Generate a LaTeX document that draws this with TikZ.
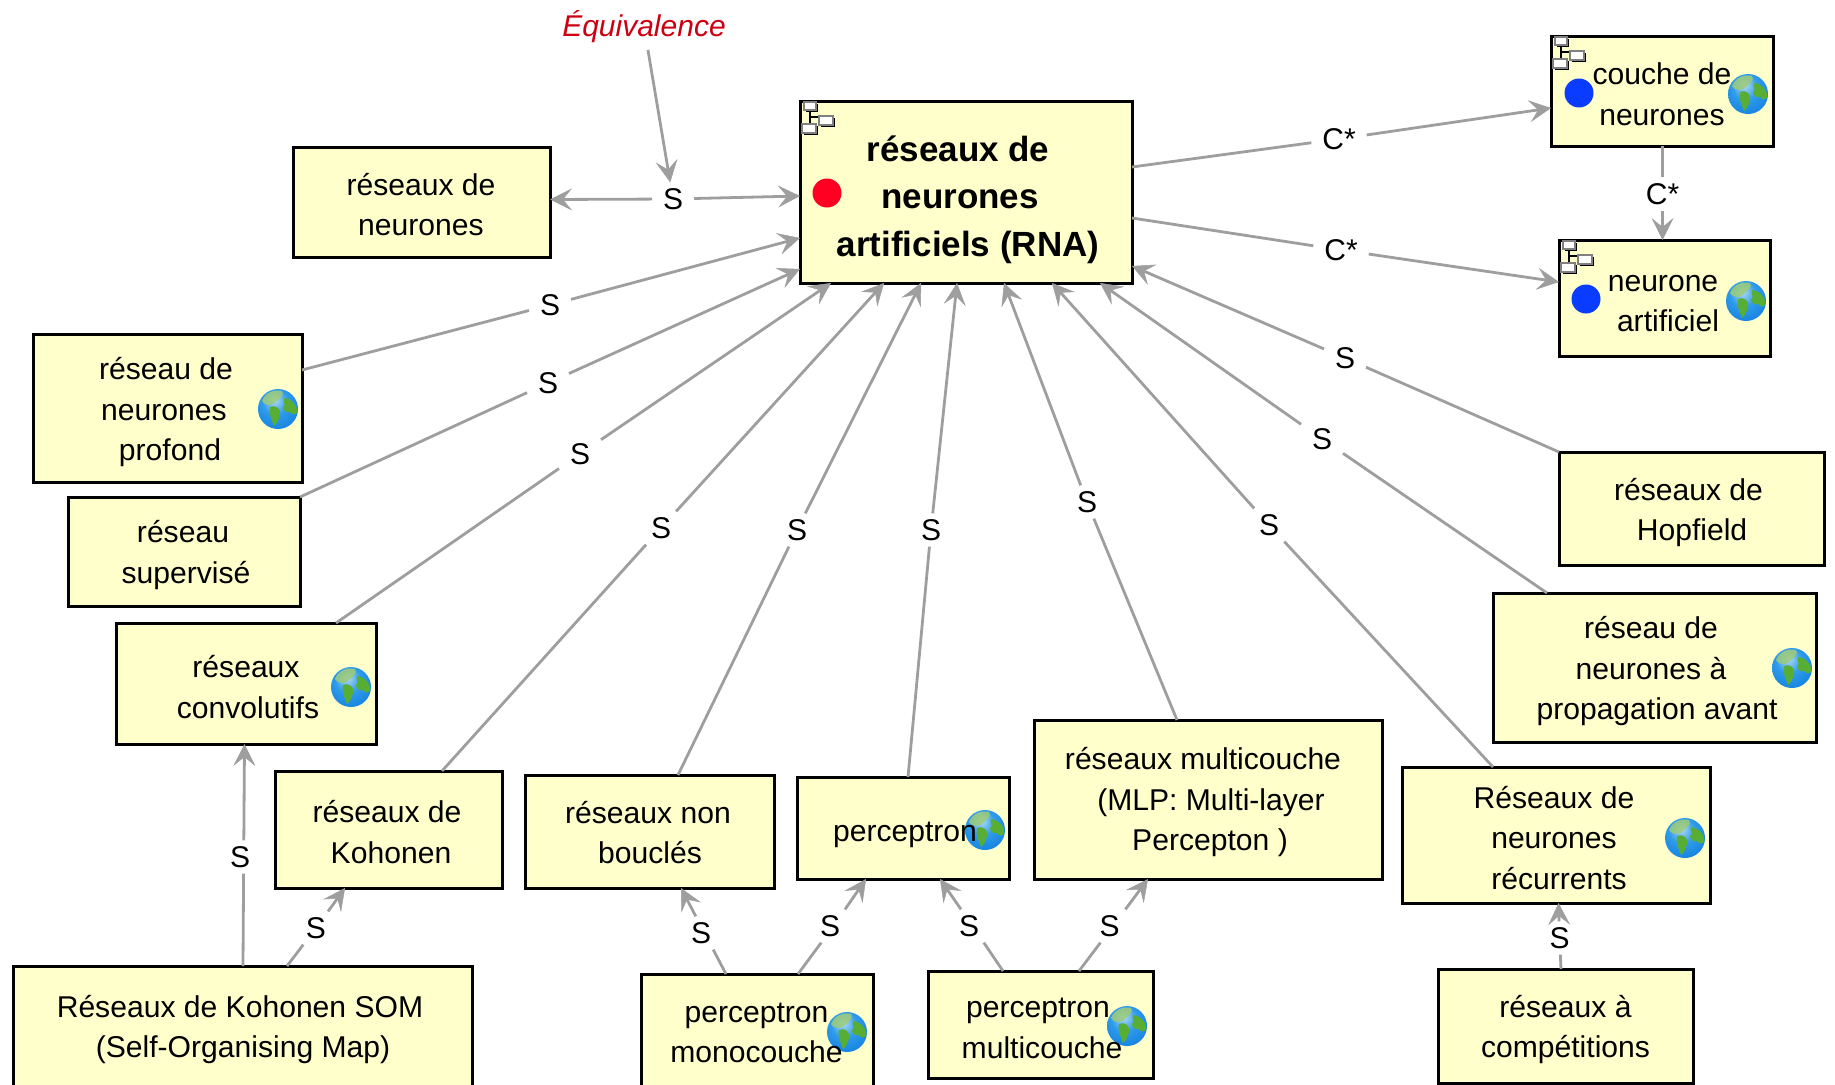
\documentclass[tikz,border=0pt]{standalone}
\usepackage{fontspec}
\setmainfont{Liberation Sans}
\usetikzlibrary{arrows.meta,fit}
\definecolor{boxfill}{HTML}{FFFFCC}
\definecolor{linkgray}{HTML}{9E9E9E}
\definecolor{eqred}{HTML}{CC0011}
\definecolor{dotred}{HTML}{FF0022}
\definecolor{dotblue}{HTML}{0A3CFF}
\definecolor{gA}{HTML}{B4DCF5}
\definecolor{gB}{HTML}{2F9BEA}
\definecolor{gC}{HTML}{0A78DC}
\definecolor{gD}{HTML}{1C4FA0}
\definecolor{landA}{HTML}{9CCB78}
\definecolor{landB}{HTML}{58AE34}
\pgfdeclareradialshading{earthshade}{\pgfpoint{-5bp}{12bp}}{%
  color(0bp)=(gA);
  color(16bp)=(gB);
  color(40bp)=(gC);
  color(54bp)=(gD);
  color(65bp)=(gD)}
\newcommand{\dx}[2]{\hspace*{#1pt}#2}
\newcommand{\lsh}[1]{\hspace*{-7pt}#1}
\tikzset{
  x=1pt,y=-1pt,
  cbox/.style={draw=black,fill=boxfill,line width=3pt,inner sep=0pt,outer sep=0pt},
  txt/.style={font=\fontsize{30.1pt}{40.5pt}\selectfont,align=center,text=black,inner sep=0pt},
  maintxt/.style={font=\fontsize{35pt}{47.5pt}\selectfont\bfseries,align=center,text=black,inner sep=0pt},
  lab/.style={font=\fontsize{30pt}{36pt}\selectfont,text=black,inner xsep=11pt,inner ysep=6pt,outer sep=0pt},
  eqn/.style={font=\fontsize{30pt}{36pt}\selectfont\itshape,text=eqred,inner sep=7pt},
  link/.style={draw=linkgray,line width=2.8pt,-{Stealth[inset=9pt,length=22pt,width=22pt,line width=0.5pt]}},
  dot/.style={circle,inner sep=0pt,minimum size=29pt,draw=none},
  earth/.pic={
    \shade[shading=earthshade] (0,0) circle[radius=20pt];
    \fill[landA,opacity=.85] (-16,-8) .. controls (-13,-16) and (-4,-20) .. (4,-18) .. controls (7,-14) and (2,-11) .. (-1,-8) .. controls (-5,-3) and (-12,-2) .. (-16,-8) -- cycle;
    \fill[landB] (6,-11) .. controls (12,-11) and (19,-5) .. (19.5,2) .. controls (18,7) and (14,6) .. (12,3) .. controls (9,4) and (5,2) .. (5,-2) .. controls (9,-4) and (4,-7) .. (6,-11) -- cycle;
    \fill[landB] (-8,-2) .. controls (-3,-5) and (4,0) .. (2,6) .. controls (1,11) and (-2,16) .. (-4,17) .. controls (-6,11) and (-10,4) .. (-8,-2) -- cycle;
  },
  treeicon/.pic={
    \draw[black,line width=2pt] (9.5,9) -- (9.5,23) (9.5,16) -- (19,16);
    \foreach \xa/\ya/\xb/\yb in {4/1/16/9,19/15/33/24,2/23/16/32}{
      \fill[black] (\xa+2,\ya+2) rectangle (\xb+2,\yb+2);
      \draw[draw=gray,fill=white,line width=2pt] (\xa,\ya) rectangle (\xb,\yb);
    }
  }
}
\begin{document}
\begin{tikzpicture}
\useasboundingbox (0,0) rectangle (1835,1084);
\clip (0,0) rectangle (1835,1084);

% boxes
\node[cbox,fit={(800,101) (1132,283)}] (main) {};
\node[cbox,fit={(293,147) (550,257)}] (rn) {};
\node[cbox,fit={(33,334) (302,482)}] (prof) {};
\node[cbox,fit={(68,497) (300,606)}] (sup) {};
\node[cbox,fit={(116,623) (376,744)}] (conv) {};
\node[cbox,fit={(275,771) (502,888)}] (koh) {};
\node[cbox,fit={(525,775) (774,888)}] (nb) {};
\node[cbox,fit={(797,777) (1009,879)}] (perc) {};
\node[cbox,fit={(1034,720) (1382,879)}] (mlp) {};
\node[cbox,fit={(1402,767) (1710,903)}] (rec) {};
\node[cbox,fit={(1493,593) (1816,742)}] (prop) {};
\node[cbox,fit={(1559,452) (1824,565)}] (hop) {};
\node[cbox,fit={(1551,36) (1773,146)}] (couche) {};
\node[cbox,fit={(1559,240) (1770,356)}] (neur) {};
\node[cbox,fit={(13,966) (472,1110)}] (som) {};
\node[cbox,fit={(641,974) (873,1110)}] (mono) {};
\node[cbox,fit={(928,971) (1153,1078)}] (multi) {};
\node[cbox,fit={(1438,969) (1693,1083)}] (comp) {};

% icons
\node[dot,fill=dotred] (d1) at (827,193) {};
\node[dot,fill=dotblue] (d2) at (1579,93) {};
\node[dot,fill=dotblue] (d3) at (1586,299) {};
\pic at (800,101) {treeicon};
\pic at (1551,36) {treeicon};
\pic at (1559,240) {treeicon};
\pic at (278,409) {earth};
\pic at (351,687) {earth};
\pic at (985,830) {earth};
\pic at (1792,668) {earth};
\pic at (1685,838) {earth};
\pic at (847,1032) {earth};
\pic at (1127,1026) {earth};
\pic at (1748,94) {earth};
\pic at (1746,301) {earth};

% texts
\node[maintxt] (main-t) at (961,199.5) {\dx{-6}{réseaux de}\\\dx{-2}{neurones}\\\dx{14}{artificiels (RNA)}};
\node[txt] (rn-t) at (421,204.5) {réseaux de\\neurones};
\node[txt] (prof-t) at (166,412.5) {réseau de\\\dx{-4}{neurones}\\\dx{8}{profond}};
\node[txt] (sup-t) at (184.5,555) {\dx{-3}{réseau}\\\dx{3}{supervisé}};
\node[txt] (conv-t) at (247,687) {\dx{-2}{réseaux}\\\dx{2}{convolutifs}};
\node[txt] (koh-t) at (389,832) {\dx{-4}{réseaux de}\\\dx{4}{Kohonen}};
\node[txt] (nb-t) at (649,832.5) {\dx{-2}{réseaux non}\\\dx{2}{bouclés}};
\node[txt] (perc-t) at (905,834.5) {perceptron};
\node[txt] (mlp-t) at (1208,802.5) {\dx{-10}{réseaux multicouche}\\\dx{6}{(MLP: Multi-layer}\\\dx{4}{Percepton )}};
\node[txt] (rec-t) at (1556,838) {\dx{-4}{Réseaux de}\\\dx{-4}{neurones}\\\dx{6}{récurrents}};
\node[txt] (prop-t) at (1653,671.5) {\dx{-4}{réseau de}\\\dx{-4}{neurones à}\\\dx{8}{propagation avant}};
\node[txt] (hop-t) at (1690,512.5) {\dx{-3}{réseaux de}\\\dx{4}{Hopfield}};
\node[txt] (som-t) at (241.5,1029.5) {\dx{-3}{Réseaux de Kohonen SOM}\\\dx{3}{(Self-Organising Map)}};
\node[txt] (mono-t) at (756.5,1033) {perceptron\\monocouche};
\node[txt] (multi-t) at (1040,1028.5) {\dx{-4}{perceptron}\\\dx{4}{multicouche}};
\node[txt] (comp-t) at (1565.5,1029.5) {réseaux à\\compétitions};
\node[txt] (couche-t) at (1662,94) {couche de\\neurones};
\node[txt] (neur-t) at (1665,303.5) {\dx{-4}{neurone}\\\dx{6}{artificiel}};
\node[eqn] (eq) at (644,26.5) {Équivalence};

% link labels
\node[lab] (s0) at (673,199) {S};
\node[lab] (s1) at (550,305) {S};
\node[lab] (s2) at (548,383) {S};
\node[lab] (s3) at (580,454) {S};
\node[lab] (s4) at (661,528) {S};
\node[lab] (s5) at (797,530) {S};
\node[lab] (s6) at (931,530) {S};
\node[lab] (s7) at (1087,502) {S};
\node[lab] (s8) at (1269,525) {S};
\node[lab] (s9) at (1322,439) {S};
\node[lab] (s10) at (1345,358) {S};
\node[lab] (c1) at (1339,139) {C*};
\node[lab] (c2) at (1341,250) {C*};
\node[lab] (c3) at (1662.5,194) {C*};
\node[lab] (s11) at (243.7,857) {\lsh{S}};
\node[lab] (s12) at (316,928) {S};
\node[lab] (s13) at (704.5,933) {\lsh{S}};
\node[lab] (s14) at (833.5,926) {\lsh{S}};
\node[lab] (s15) at (972.5,926) {\lsh{S}};
\node[lab] (s16) at (1113,926) {\lsh{S}};
\node[lab] (s17) at (1559.5,938) {S};

% connectors
\draw[link] (eq) -- (s0);
\draw[link] (s0) -- ([yshift=2.5pt]rn.east);
\draw[link] (s0) -- ([yshift=-4pt]main.west);
\draw[link] ([yshift=-36pt]prof.north east) -- (s1) -- ([yshift=45pt]main.south west);
\draw[link] (sup.north east) -- (s2) -- ([yshift=14pt]main.south west);
\draw[link] ([xshift=-40pt]conv.north east) -- (s3) -- ([xshift=31pt]main.south west);
\draw[link] ([xshift=-60pt]koh.north east) -- (s4) -- ([xshift=84pt]main.south west);
\draw[link] ([xshift=28.5pt]nb.north) -- (s5) -- ([xshift=121pt]main.south west);
\draw[link] ([xshift=5pt]perc.north) -- (s6) -- ([xshift=157pt]main.south west);
\draw[link] ([xshift=143pt]mlp.north west) -- (s7) -- ([xshift=204pt]main.south west);
\draw[link] ([xshift=-63pt]rec.north) -- (s8) -- ([xshift=252pt]main.south west);
\draw[link] ([xshift=-107.5pt]prop.north) -- (s9) -- ([xshift=300pt]main.south west);
\draw[link] (hop.north west) -- (s10) -- ([yshift=17pt]main.south east);
\draw[link] ([yshift=-66pt]main.north east) -- (c1) -- ([yshift=-17pt]couche.west);
\draw[link] ([yshift=-117pt]main.north east) -- (c2) -- ([yshift=16pt]neur.west);
\draw[link] ([xshift=0.5pt]couche.south) -- (c3) -- ([xshift=-2pt]neur.north);
\draw[link] ([xshift=230pt]som.north west) -- (s11) -- ([xshift=-1.5pt]conv.south);
\draw[link] ([xshift=274pt]som.north west) -- (s12) -- ([xshift=70pt]koh.south west);
\draw[link] ([xshift=85pt]mono.north west) -- (s13) -- ([xshift=156pt]nb.south west);
\draw[link] ([xshift=157pt]mono.north west) -- (s14) -- ([xshift=69pt]perc.south west);
\draw[link] ([xshift=75pt]multi.north west) -- (s15) -- ([xshift=143pt]perc.south west);
\draw[link] ([xshift=151pt]multi.north west) -- (s16) -- ([xshift=114pt]mlp.south west);
\draw[link] ([xshift=-4.5pt]comp.north) -- (s17) -- ([xshift=2.5pt]rec.south);
\end{tikzpicture}
\end{document}
